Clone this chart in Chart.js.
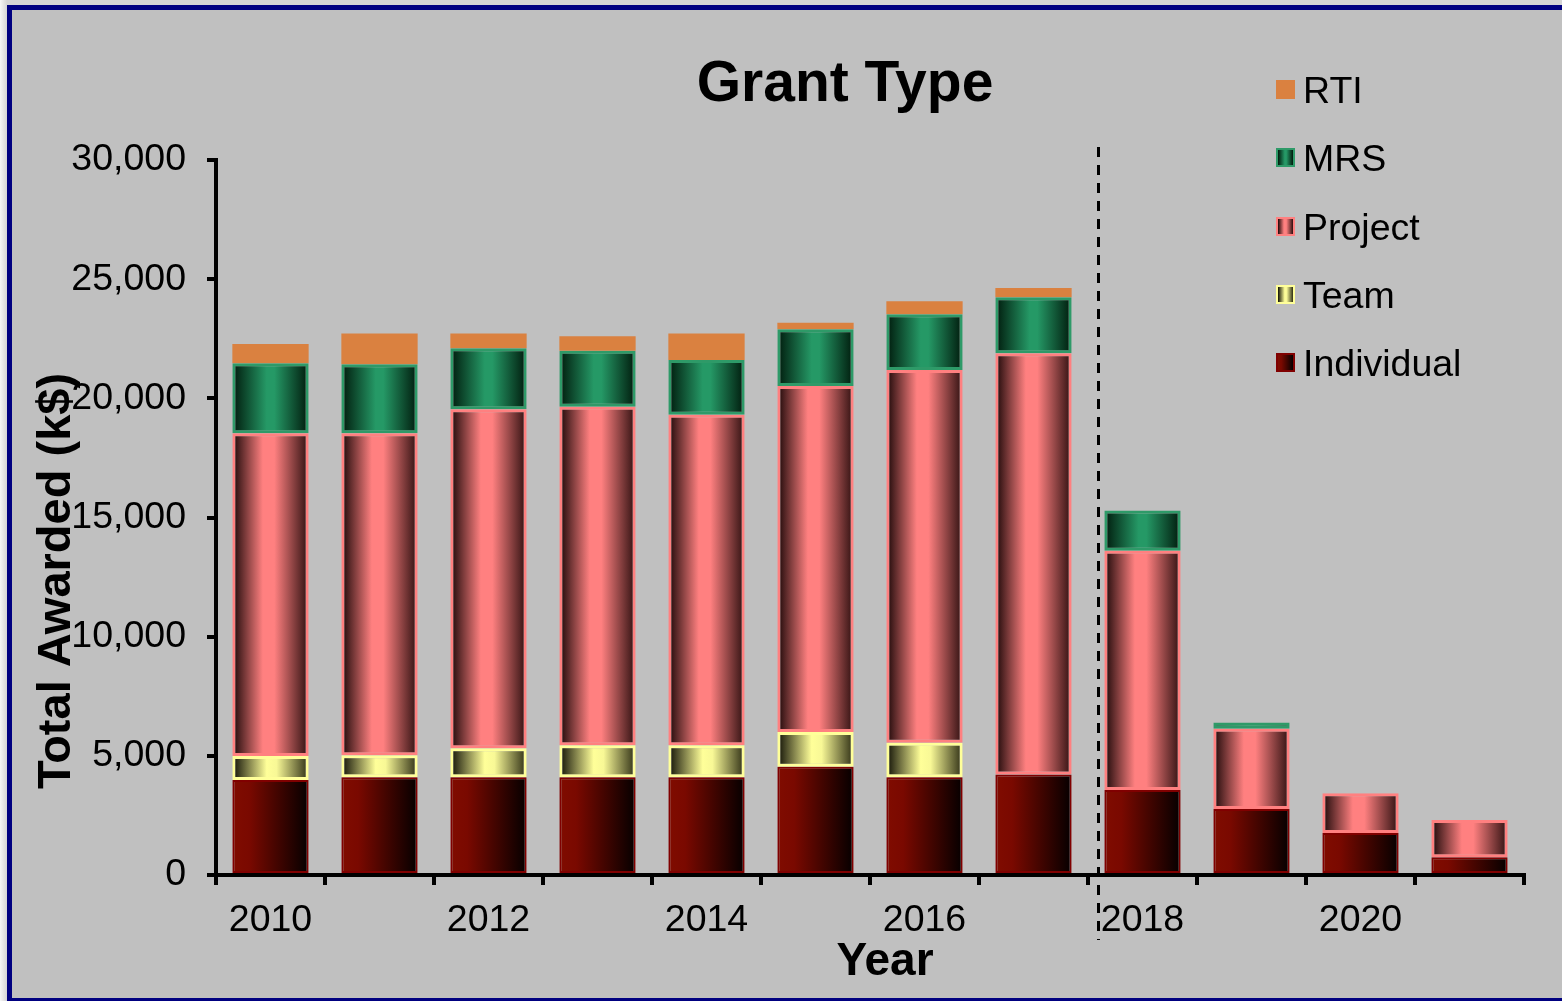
<!DOCTYPE html>
<html><head><meta charset="utf-8">
<script src="https://cdn.jsdelivr.net/npm/chart.js@4.4.1/dist/chart.umd.min.js"></script>
<style>
html,body{margin:0;padding:0;width:1562px;height:1001px;overflow:hidden;background:linear-gradient(to right,#f6f6f6 0px,#d4d4d4 7px,#d4d4d4 100%);}
#frame{position:absolute;left:7px;top:5px;width:1600px;height:988px;border:5px solid #000080;background:#c0c0c0;}
canvas{position:absolute;left:0;top:0;}
</style></head><body>
<div id="frame"></div>
<canvas id="c" width="1562" height="1001"></canvas>
<script>
// ---- data ----
const years = ['2010','2011','2012','2013','2014','2015','2016','2017','2018','2019','2020','2021'];
const individual = [3990, 4100, 4100, 4100, 4100, 4540, 4100, 4220, 3570, 2770, 1760, 740];
const team       = [1000,  920, 1220, 1340, 1340, 1460, 1450,    0,    0,    0,    0,   0];
const project    = [13540,13510,14220,14210,13870,14520,15640,17670,10040, 3370, 1670, 1570];
const mrs        = [2940, 2900, 2560, 2350, 2300, 2380, 2340, 2350, 1680,  260,    0,   0];
const rti        = [ 810, 1290,  620,  610, 1110,  270,  540,  390,    0,    0,    0,   0];
const yMin = 0, yMax = 30000, yStep = 5000;
const dividerPos = 7.59; // between 2017 and 2018

// ---- styles ----
const FONT = "'Liberation Sans', Arial, Helvetica, sans-serif";
const TICK_SIZE = 37.5;
const BAR_PCT = 0.7;
const styles = {
  'Individual': {stops:[[0,'#800c00'],[0.22,'#7a0900'],[1,'#050000']], border:'#800000', bw:2},
  'Team':       {stops:[[0,'#0e0e04'],[0.45,'#ffff99'],[0.58,'#f8f896'],[1,'#2e2e14']], border:'#ffff99', bw:3},
  'Project':    {stops:[[0,'#1a0707'],[0.4,'#ff8080'],[0.55,'#ff8080'],[1,'#2e1010']], border:'#ff8080', bw:3},
  'MRS':        {stops:[[0,'#001a0c'],[0.45,'#259966'],[0.55,'#259966'],[1,'#001a0c']], border:'#2e9a68', bw:3},
  'RTI':        {stops:null, solid:'#da8140', border:'#da8140', bw:0}
};

function makeGrad(ctx, x0, x1, stops){
  const g = ctx.createLinearGradient(x0, 0, x1, 0);
  stops.forEach(s => g.addColorStop(s[0], s[1]));
  return g;
}
function barBg(name){
  const st = styles[name];
  if (!st.stops) return st.solid;
  return function(c){
    const chart = c.chart;
    const xs = chart.scales && chart.scales.x;
    if (!xs || !chart.chartArea || c.dataIndex === undefined) return st.stops[1][1];
    const center = xs.getPixelForValue(c.dataIndex);
    const w = xs.width / years.length * BAR_PCT;
    return makeGrad(chart.ctx, center - w/2, center + w/2, st.stops);
  };
}
function ds(name, arr){
  const st = styles[name];
  return {
    label: name,
    data: arr.map(v => v > 0 ? v : null),
    backgroundColor: barBg(name),
    borderColor: st.border,
    borderWidth: st.bw,
    borderSkipped: false,
    barPercentage: BAR_PCT,
    categoryPercentage: 1.0
  };
}

const decorPlugin = {
  id: 'decor',
  afterDatasetsDraw(chart){
    const ctx = chart.ctx, xs = chart.scales.x;
    const x = Math.round(xs.getPixelForValue(dividerPos)) + 0.5;
    ctx.save();
    ctx.strokeStyle = '#000';
    ctx.lineWidth = 3;
    ctx.setLineDash([10, 8]);
    ctx.beginPath();
    ctx.moveTo(x, 147);
    ctx.lineTo(x, 940);
    ctx.stroke();
    ctx.restore();
  },
  afterDraw(chart){
    const ctx = chart.ctx;
    ctx.save();
    ctx.fillStyle = '#000';
    // main title
    ctx.font = 'bold 57px ' + FONT;
    ctx.textAlign = 'center';
    ctx.textBaseline = 'alphabetic';
    ctx.fillText('Grant Type', 845, 101);
    // x title
    ctx.font = 'bold 46px ' + FONT;
    ctx.fillText('Year', 885, 975);
    // y title
    ctx.save();
    ctx.translate(70, 581);
    ctx.rotate(-Math.PI/2);
    ctx.font = 'bold 47px ' + FONT;
    ctx.fillText('Total Awarded (k$)', 0, 0);
    ctx.restore();
    // legend (reverse dataset order)
    const dsets = chart.data.datasets.slice().reverse();
    const x0 = 1276, sz = 19, y0 = 89.5, dy = 68.3;
    ctx.font = TICK_SIZE + 'px ' + FONT;
    ctx.textAlign = 'left';
    dsets.forEach((d, i) => {
      const st = styles[d.label];
      const cy = y0 + i * dy;
      const top = Math.round(cy - sz/2);
      if (st.stops){
        ctx.fillStyle = st.border;
        ctx.fillRect(x0, top, sz, sz);
        ctx.fillStyle = makeGrad(ctx, x0 + 2, x0 + sz - 2, st.stops);
        ctx.fillRect(x0 + 2, top + 2, sz - 4, sz - 4);
      } else {
        ctx.fillStyle = st.solid;
        ctx.fillRect(x0, top, sz, sz);
      }
      ctx.fillStyle = '#000';
      ctx.fillText(d.label, 1303, cy + 13.5);
    });
    ctx.restore();
  }
};

new Chart(document.getElementById('c'), {
  type: 'bar',
  data: {
    labels: years,
    datasets: [
      ds('Individual', individual),
      ds('Team', team),
      ds('Project', project),
      ds('MRS', mrs),
      ds('RTI', rti)
    ]
  },
  options: {
    responsive: false,
    animation: false,
    events: [],
    layout: {padding: {left: 30, top: 160, right: 38, bottom: 0}},
    plugins: {legend: {display: false}, title: {display: false}, tooltip: {enabled: false}},
    scales: {
      x: {
        stacked: true,
        grid: {display: true, drawOnChartArea: false, drawTicks: true, tickLength: 10, lineWidth: 4, color: '#000', offset: true},
        border: {display: true, color: '#000', width: 4},
        ticks: {
          color: '#000', font: {family: FONT, size: TICK_SIZE}, padding: 13,
          autoSkip: false, maxRotation: 0, minRotation: 0,
          callback: function(v, i){ return (i % 2 === 0) ? years[i] : ''; }
        },
        afterFit: function(s){ s.height = 126; }
      },
      y: {
        stacked: true,
        min: yMin, max: yMax,
        grid: {display: true, drawOnChartArea: false, drawTicks: true, tickLength: 9, lineWidth: 4, color: '#000'},
        border: {display: true, color: '#000', width: 4},
        ticks: {stepSize: yStep, color: '#000', font: {family: FONT, size: TICK_SIZE}, padding: 21},
        afterFit: function(s){ s.width = 186; }
      }
    }
  },
  plugins: [decorPlugin]
});
</script>
</body></html>
